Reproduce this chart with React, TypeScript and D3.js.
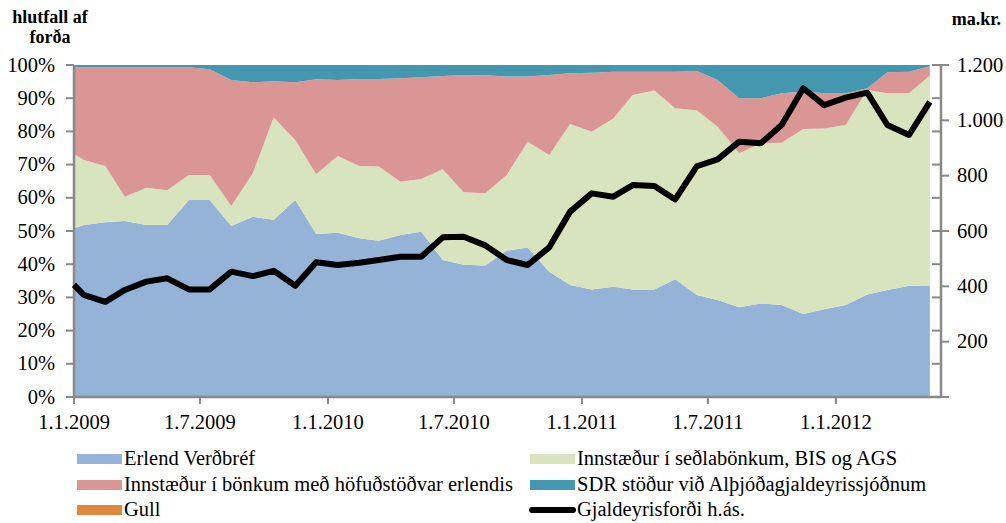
import React from 'react'
import * as d3 from 'd3'

// dagsetningar (fyrsti punktur 1.1.2009, síðan um miðjan mánuð)
const dates = [
  '2009-01-01', '2009-01-15', '2009-02-15', '2009-03-15', '2009-04-15', '2009-05-15', '2009-06-15',
  '2009-07-15', '2009-08-15', '2009-09-15', '2009-10-15', '2009-11-15', '2009-12-15',
  '2010-01-15', '2010-02-15', '2010-03-15', '2010-04-15', '2010-05-15', '2010-06-15',
  '2010-07-15', '2010-08-15', '2010-09-15', '2010-10-15', '2010-11-15', '2010-12-15',
  '2011-01-15', '2011-02-15', '2011-03-15', '2011-04-15', '2011-05-15', '2011-06-15',
  '2011-07-15', '2011-08-15', '2011-09-15', '2011-10-15', '2011-11-15', '2011-12-15',
  '2012-01-15', '2012-02-15', '2012-03-15', '2012-04-15', '2012-05-15',
]

// hlutföll í %
const erlendVerdbref = [
  50.8, 51.8, 52.6, 53.0, 51.8, 51.8, 59.3, 59.3, 51.5, 54.3, 53.4, 59.3, 49.1,
  49.5, 47.8, 47.1, 48.8, 49.8, 41.3, 39.8, 39.6, 44.1, 45.0, 37.7, 33.7,
  32.4, 33.2, 32.4, 32.4, 35.5, 30.7, 29.2, 27.0, 28.2, 27.7, 25.0, 26.4,
  27.7, 30.9, 32.2, 33.5, 33.4,
]
const innstSedlabonkum = [
  22.4, 19.6, 17.0, 7.3, 11.2, 10.5, 7.6, 7.6, 6.0, 13.1, 30.8, 18.1, 18.0,
  23.1, 21.8, 22.3, 16.0, 15.9, 27.3, 21.9, 21.8, 22.8, 31.9, 35.2, 48.5,
  47.5, 50.7, 58.6, 59.9, 51.5, 55.7, 52.2, 46.4, 48.2, 48.9, 55.7, 54.5,
  54.2, 61.6, 59.3, 58.0, 63.4,
]
const innstBonkum = [
  26.1, 27.9, 29.7, 39.0, 36.3, 37.0, 32.4, 31.8, 38.0, 27.4, 10.9, 17.4, 28.6,
  22.9, 26.2, 26.4, 31.2, 30.6, 28.1, 35.3, 35.5, 29.6, 19.6, 24.1, 15.3,
  17.8, 14.1, 7.0, 5.7, 11.0, 11.8, 14.1, 16.6, 13.6, 14.9, 11.3, 10.6,
  9.6, 0.5, 6.3, 6.5, 2.8,
]
const sdrStodur = [
  0.7, 0.7, 0.7, 0.7, 0.7, 0.7, 0.7, 1.3, 4.5, 5.2, 4.9, 5.2, 4.3,
  4.5, 4.2, 4.2, 4.0, 3.7, 3.3, 3.0, 3.1, 3.5, 3.5, 3.0, 2.5,
  2.3, 2.0, 2.0, 2.0, 2.0, 1.8, 4.5, 10.0, 10.0, 8.5, 8.0, 8.5,
  8.5, 7.0, 2.2, 2.0, 0.4,
]
const gull = [
  0, 0, 0, 0, 0, 0, 0, 0, 0, 0, 0, 0, 0,
  0, 0, 0, 0, 0, 0, 0, 0, 0, 0, 0, 0,
  0, 0, 0, 0, 0, 0, 0, 0, 0, 0, 0, 0,
  0, 0, 0, 0, 0,
]
// gjaldeyrisforði, ma.kr. (hægri ás)
const gjaldeyrisfordi = [
  405, 369, 344, 387, 417, 429, 389, 389, 453, 437, 456, 402, 487,
  477, 485, 495, 507, 507, 577, 579, 548, 495, 477, 541, 670,
  736, 724, 766, 763, 714, 834, 859, 923, 917, 983, 1116, 1055,
  1082, 1100, 983, 947, 1067,
]

const xTicks = ['2009-01-01', '2009-07-01', '2010-01-01', '2010-07-01', '2011-01-01', '2011-07-01', '2012-01-01']
const xTickLabels = ['1.1.2009', '1.7.2009', '1.1.2010', '1.7.2010', '1.1.2011', '1.7.2011', '1.1.2012']
const pctTicks = [0, 10, 20, 30, 40, 50, 60, 70, 80, 90, 100]
const krTicks = [0, 200, 400, 600, 800, 1000, 1200]

const series = [
  {key: 'erlend', name: 'Erlend Verðbréf', color: '#95B3D7', values: erlendVerdbref},
  {key: 'sedla', name: 'Innstæður í  seðlabönkum, BIS og AGS', color: '#D7E4BD', values: innstSedlabonkum},
  {key: 'bankar', name: 'Innstæður í bönkum með höfuðstöðvar erlendis', color: '#D99694', values: innstBonkum},
  {key: 'sdr', name: 'SDR stöður við Alþjóðagjaldeyrissjóðnum', color: '#4398AF', values: sdrStodur},
  {key: 'gull', name: 'Gull', color: '#DD883C', values: gull},
]
const lineName = 'Gjaldeyrisforði h.ás.'

const font = 'Liberation Serif, Times New Roman, serif'
const axisColor = '#898989'

const parse = d3.timeParse('%Y-%m-%d')
const krFormat = d3.formatLocale({decimal: ',', thousands: '.', grouping: [3], currency: ['', '']}).format(',')

const App = () => {
  const left = 74, right = 941, top = 65, bottom = 397

  const x = d3.scaleTime()
    .domain([parse('2009-01-01'), parse('2012-05-31')])
    .range([left, right])
  const yPct = d3.scaleLinear().domain([0, 100]).range([bottom, top])
  const yKr = d3.scaleLinear().domain([0, 1200]).range([bottom, top])

  const rows = dates.map((d, i) => {
    const row: any = {date: parse(d)}
    series.forEach(s => { row[s.key] = s.values[i] })
    return row
  })
  const stacked = d3.stack().keys(series.map(s => s.key))(rows)

  const area = d3.area<any>()
    .x(d => x(d.data.date))
    .y0(d => yPct(d[0]))
    .y1(d => yPct(d[1]))

  const line = d3.line<number>()
    .x((_, i) => x(parse(dates[i])!))
    .y(d => yKr(d))

  const legendRows = [459, 485, 510]
  const legendItems = [
    {col: 0, row: 0, s: series[0]},
    {col: 1, row: 0, s: series[1]},
    {col: 0, row: 1, s: series[2]},
    {col: 1, row: 1, s: series[3]},
    {col: 0, row: 2, s: series[4]},
  ]
  const colX = [77, 530]
  const fs = 20.5

  return (
    <svg width={1006} height={523}
      style={{position: 'absolute', left: 0, top: 0, background: '#fff', fontFamily: font}}>
      {stacked.map((layer, i) => (
        <path key={series[i].key} d={area(layer) || ''} fill={series[i].color} />
      ))}

      {/* axes */}
      <line x1={left} x2={left} y1={top} y2={bottom} stroke={axisColor} strokeWidth={2.5} />
      <line x1={right} x2={right} y1={top} y2={bottom} stroke={axisColor} strokeWidth={2.5} />
      <line x1={left} x2={right} y1={bottom} y2={bottom} stroke={axisColor} strokeWidth={2.5} />

      {pctTicks.map(t => (
        <g key={'p' + t}>
          <line x1={left - 8} x2={left} y1={yPct(t)} y2={yPct(t)} stroke={axisColor} strokeWidth={2} />
          <line x1={right - 9} x2={right} y1={yPct(t)} y2={yPct(t)} stroke={axisColor} strokeWidth={2} />
          <text x={55} y={yPct(t) + 6.5} textAnchor="end" fontSize={fs} fill="#000">{t}%</text>
        </g>
      ))}
      {krTicks.map(t => (
        <g key={'k' + t}>
          <line x1={right} x2={right + 8} y1={yKr(t)} y2={yKr(t)} stroke={axisColor} strokeWidth={2} />
          {t > 0 && (
            <text x={957} y={yKr(t) + 6.5} fontSize={fs} fill="#000">{krFormat(t)}</text>
          )}
        </g>
      ))}
      {xTicks.map((t, i) => (
        <g key={t}>
          <line x1={x(parse(t)!)} x2={x(parse(t)!)} y1={bottom} y2={bottom + 7} stroke={axisColor} strokeWidth={2} />
          <text x={x(parse(t)!)} y={429} textAnchor="middle" fontSize={fs} fill="#000">{xTickLabels[i]}</text>
        </g>
      ))}

      <path d={line(gjaldeyrisfordi) || ''} fill="none" stroke="#000" strokeWidth={6} strokeLinejoin="round" />

      {/* titles */}
      <text x={50} y={23} textAnchor="middle" fontSize={18} fontWeight="bold">hlutfall af</text>
      <text x={50} y={43} textAnchor="middle" fontSize={18} fontWeight="bold">forða</text>
      <text x={1001} y={25} textAnchor="end" fontSize={18} fontWeight="bold">ma.kr.</text>

      {/* legend */}
      {legendItems.map(({col, row, s}) => (
        <g key={s.key}>
          <rect x={colX[col]} y={legendRows[row] - 5} width={45} height={10} fill={s.color} />
          <text x={colX[col] + 47} y={legendRows[row] + 6} fontSize={fs}>{s.name}</text>
        </g>
      ))}
      <line x1={colX[1] + 2} x2={colX[1] + 43} y1={legendRows[2]} y2={legendRows[2]} stroke="#000" strokeWidth={6} strokeLinecap="round" />
      <text x={colX[1] + 47} y={legendRows[2] + 6} fontSize={fs}>{lineName}</text>
    </svg>
  )
}

export default App
